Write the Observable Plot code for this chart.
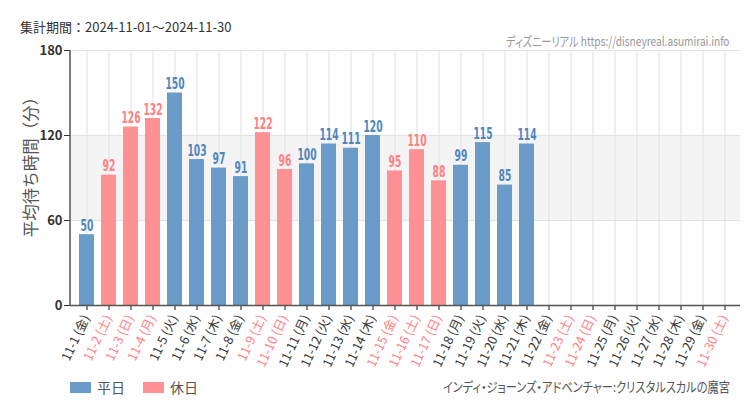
<!DOCTYPE html>
<html><head><meta charset="utf-8">
<script src="https://cdn.jsdelivr.net/npm/d3@7"></script>
<script src="https://cdn.jsdelivr.net/npm/@observablehq/plot@0.6"></script>
<style>
html,body{margin:0;padding:0;background:#fdfefd;}
#wrap{position:relative;width:750px;height:410px;font-family:"Noto Sans CJK JP","Noto Sans",sans-serif;}
.abs{position:absolute;white-space:nowrap;}
#title{left:20px;top:17px;font-size:13px;color:#333;}
#site{right:20px;top:31px;font-size:13px;color:#999;font-feature-settings:"palt";transform:scaleX(0.78);transform-origin:right center;}
#ylab{left:-70px;top:153px;width:200px;height:20px;line-height:20px;text-align:center;font-size:16.5px;color:#555;transform:rotate(-90deg);}
#leg{left:70px;top:377px;font-size:14px;color:#555;display:flex;align-items:center;}
.sw{display:inline-block;width:21px;height:11px;margin-right:6px;}
#attr{right:20px;top:376px;font-size:13.5px;color:#555;font-feature-settings:"palt";transform:scaleX(0.83);transform-origin:right center;}
svg{position:absolute;left:0;top:0;}
</style></head>
<body><div id="wrap">
<div id="title" class="abs">集計期間：2024-11-01～2024-11-30</div>
<div id="site" class="abs">ディズニーリアル https://disneyreal.asumirai.info</div>
<div id="ylab" class="abs">平均待ち時間（分）</div>
<div id="leg" class="abs"><span class="sw" style="background:#6b9bc8"></span>平日<span style="width:18px;display:inline-block"></span><span class="sw" style="background:#ff9093"></span>休日</div>
<div id="attr" class="abs">インディ・ジョーンズ・アドベンチャー:クリスタルスカルの魔宮</div>
</div>
<script>
const dates = ["11-1","11-2","11-3","11-4","11-5","11-6","11-7","11-8","11-9","11-10","11-11","11-12","11-13","11-14","11-15","11-16","11-17","11-18","11-19","11-20","11-21","11-22","11-23","11-24","11-25","11-26","11-27","11-28","11-29","11-30"];
const weekdays = ["金","土","日","月","火","水","木","金","土","日","月","火","水","木","金","土","日","月","火","水","木","金","土","日","月","火","水","木","金","土"];
const holiday = [0,1,1,1,0,0,0,0,1,1,0,0,0,0,1,1,1,0,0,0,0,0,1,1,0,0,0,0,0,1];
const waits = [50,92,126,132,150,103,97,91,122,96,100,114,111,120,95,110,88,99,115,85,114,null,null,null,null,null,null,null,null,null];
const yTicks = [0,60,120,180];
const band = [60,120];

const data = dates.map((d,i)=>({date:d, label:`${d} (${weekdays[i]})`, hol:holiday[i]===1, v:waits[i]}));
const bars = data.filter(d=>d.v!=null);
const barFill = d=>d.hol?"#ff9093":"#6b9bc8";
const txtFill = d=>d.hol?"#ff8085":"#4f86bd";
const lblFill = d=>d.hol?"#ff8085":"#333";

const chart = Plot.plot({
  width:750, height:410,
  marginTop:50, marginBottom:105, marginLeft:70, marginRight:10,
  style:{background:"transparent", fontFamily:"'Noto Sans CJK JP',sans-serif"},
  x:{type:"band", domain:dates, padding:0.32, axis:null},
  y:{domain:[0,180], axis:null},
  marks:[
    Plot.rectY([band], {y1:d=>d[0], y2:d=>d[1], fill:"#f4f4f4"}),
    Plot.gridY(yTicks.slice(1), {stroke:"#e2e2e2", strokeOpacity:1}),
    Plot.gridX(dates, {stroke:"#e2e2e2", strokeOpacity:1}),
    Plot.barY(bars, {x:"date", y:"v", fill:barFill}),
    Plot.text(bars, {x:"date", y:"v", text:d=>String(d.v), dy:-9, fill:txtFill,
      fontSize:16, fontWeight:"bold", fontFamily:"'DejaVu Sans',sans-serif", className:"vlab"}),
    Plot.axisY({ticks:yTicks, tickSize:6, fontSize:13, color:"#333", tickPadding:2, fontWeight:"bold", label:null}),
    Plot.axisX({tickSize:5, tickFormat:()=>"", stroke:"#111", label:null}),
    Plot.ruleY([0], {stroke:"#555", strokeWidth:1.5}),
    Plot.text(data, {x:"date", frameAnchor:"bottom", text:"label", rotate:-65, textAnchor:"end",
      dy:12, dx:3, fill:lblFill, fontSize:12.5})
  ]
});
document.getElementById("wrap").appendChild(chart);
// condensed look for the value labels
d3.select(chart).selectAll("g.vlab text").each(function(){
  const n = this.textContent.length;
  d3.select(this).attr("textLength", n*6.4).attr("lengthAdjust","spacingAndGlyphs");
});
// left axis line along the frame edge
const xr = chart.scale("x").range, yr = chart.scale("y").range;
d3.select(chart).append("line").attr("x1",xr[0]).attr("x2",xr[0]).attr("y1",yr[0]).attr("y2",yr[1]).attr("stroke","#555").attr("stroke-width",1.5);
</script>
</body></html>
